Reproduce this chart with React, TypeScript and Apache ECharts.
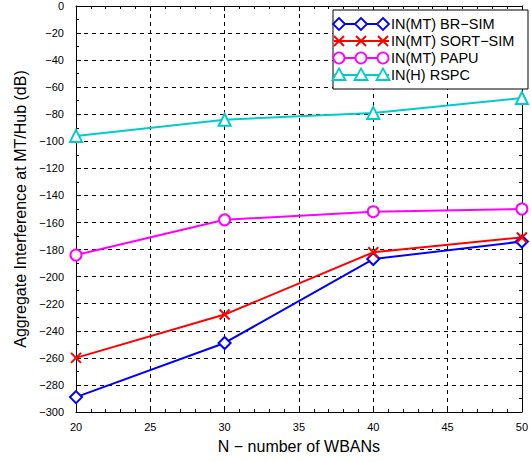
import React, { useEffect, useRef } from "react";
import * as echarts from "echarts";

const xValues = [20, 30, 40, 50];
const brSim = [-289, -249, -187, -174];
const sortSim = [-260, -228, -182, -171];
const papu = [-184, -158, -152, -150];
const rspc = [-96, -84, -79, -68];
const seriesNames = ["IN(MT) BR\u2212SIM", "IN(MT) SORT\u2212SIM", "IN(MT) PAPU", "IN(H) RSPC"];
const colors = ["#0000ff", "#ff0000", "#ff00ff", "#00cccc"];
const xAxisTitle = "N \u2212 number of WBANs";
const yAxisTitle = "Aggregate Interference at MT/Hub (dB)";

const FONT = "Liberation Sans, Arial, Helvetica, sans-serif";
const X_SYMBOL = "path://M0,0L10,10M10,0L0,10";

function legendGraphic() {
  const els: any[] = [];
  const bx = 333, by = 10, bw = 195, bh = 79;
  els.push({
    type: "rect",
    shape: { x: bx, y: by, width: bw, height: bh },
    style: { fill: "#fff", stroke: "#000", lineWidth: 1 },
    z: 100,
  });
  const mxs = [339, 361, 383];
  seriesNames.forEach((name, i) => {
    const y = 24 + 17 * i;
    const c = colors[i];
    els.push({
      type: "line",
      shape: { x1: 334, y1: y, x2: 389, y2: y },
      style: { stroke: c, lineWidth: 2 },
      z: 101,
    });
    mxs.forEach((mx) => {
      if (i === 0) {
        els.push({
          type: "polygon",
          shape: { points: [[mx, y - 6], [mx + 6, y], [mx, y + 6], [mx - 6, y]] },
          style: { fill: "#fff", stroke: c, lineWidth: 1.8 },
          z: 102,
        });
      } else if (i === 1) {
        els.push({ type: "line", shape: { x1: mx - 5, y1: y - 5, x2: mx + 5, y2: y + 5 }, style: { stroke: c, lineWidth: 2 }, z: 102 });
        els.push({ type: "line", shape: { x1: mx - 5, y1: y + 5, x2: mx + 5, y2: y - 5 }, style: { stroke: c, lineWidth: 2 }, z: 102 });
      } else if (i === 2) {
        els.push({ type: "circle", shape: { cx: mx, cy: y, r: 5.5 }, style: { fill: "#fff", stroke: c, lineWidth: 1.8 }, z: 102 });
      } else {
        els.push({
          type: "polygon",
          shape: { points: [[mx, y - 6.5], [mx + 6.5, y + 5], [mx - 6.5, y + 5]] },
          style: { fill: "#fff", stroke: c, lineWidth: 1.8 },
          z: 102,
        });
      }
    });
    els.push({
      type: "text",
      x: 391,
      y: y,
      style: { text: name, fill: "#000", font: `14.5px ${FONT}`, verticalAlign: "middle", align: "left" },
      z: 103,
    });
  });
  return els;
}

export default function App() {
  const ref = useRef<HTMLDivElement>(null);
  useEffect(() => {
    if (!ref.current) return;
    const chart = echarts.init(ref.current, undefined, { renderer: "svg" });
    const minus = (v: number) => String(v).replace("-", "\u2212");
    const splitStyle = { show: true, lineStyle: { color: "#000", type: [4, 4], width: 1 } };
    const mkSeries = (data: number[], i: number, symbol: string, size: number) => ({
      type: "line",
      name: seriesNames[i],
      data: xValues.map((x, k) => [x, data[k]]),
      symbol,
      symbolSize: size,
      lineStyle: { color: colors[i], width: 2 },
      itemStyle: symbol === X_SYMBOL
        ? { color: colors[i], borderColor: colors[i], borderWidth: 2 }
        : { color: colors[i], borderWidth: 1.8 },
      showAllSymbol: true,
      clip: true,
      z: 10 + i,
    });
    chart.setOption({
      animation: false,
      backgroundColor: "#fff",
      textStyle: { fontFamily: FONT },
      grid: { left: 76, right: 1, top: 6, bottom: 50 },
      xAxis: [
        {
          type: "value",
          min: 20,
          max: 50,
          interval: 5,
          position: "bottom",
          name: xAxisTitle,
          nameLocation: "middle",
          nameGap: 26,
          nameTextStyle: { fontSize: 16, color: "#000", fontFamily: FONT },
          axisLine: { show: true, onZero: false, lineStyle: { color: "#000", width: 1 } },
          axisTick: { show: true, inside: true, length: 5, lineStyle: { color: "#000" } },
          minorTick: { show: true, splitNumber: 5, length: 3, lineStyle: { color: "#000" } },
          axisLabel: { fontSize: 11, color: "#000", margin: 9, fontFamily: FONT },
          splitLine: splitStyle,
        },
        {
          type: "value",
          min: 20,
          max: 50,
          interval: 5,
          position: "top",
          axisLine: { show: true, onZero: false, lineStyle: { color: "#000", width: 1 } },
          axisTick: { show: true, inside: true, length: 5, lineStyle: { color: "#000" } },
          minorTick: { show: true, splitNumber: 5, length: 3, lineStyle: { color: "#000" } },
          axisLabel: { show: false },
          splitLine: { show: false },
        },
      ],
      yAxis: [
        {
          type: "value",
          min: -300,
          max: 0,
          interval: 20,
          position: "left",
          name: yAxisTitle,
          nameLocation: "middle",
          nameGap: 44,
          nameTextStyle: { fontSize: 16, color: "#000", fontFamily: FONT },
          axisLine: { show: true, onZero: false, lineStyle: { color: "#000", width: 1 } },
          axisTick: { show: true, inside: true, length: 5, lineStyle: { color: "#000" } },
          minorTick: { show: true, splitNumber: 2, length: 3, lineStyle: { color: "#000" } },
          axisLabel: { fontSize: 11, color: "#000", margin: 12, formatter: minus, fontFamily: FONT },
          splitLine: splitStyle,
        },
        {
          type: "value",
          min: -300,
          max: 0,
          interval: 20,
          position: "right",
          axisLine: { show: true, onZero: false, lineStyle: { color: "#000", width: 1 } },
          axisTick: { show: true, inside: true, length: 5, lineStyle: { color: "#000" } },
          minorTick: { show: true, splitNumber: 2, length: 3, lineStyle: { color: "#000" } },
          axisLabel: { show: false },
          splitLine: { show: false },
        },
      ],
      series: [
        mkSeries(brSim, 0, "emptyDiamond", 12),
        mkSeries(sortSim, 1, X_SYMBOL, 10),
        mkSeries(papu, 2, "emptyCircle", 11),
        mkSeries(rspc, 3, "emptyTriangle", 12),
      ],
      graphic: legendGraphic(),
    });
    return () => chart.dispose();
  }, []);
  return (
    <div
      ref={ref}
      style={{ position: "fixed", left: 0, top: 0, width: 531, height: 462 }}
    />
  );
}
